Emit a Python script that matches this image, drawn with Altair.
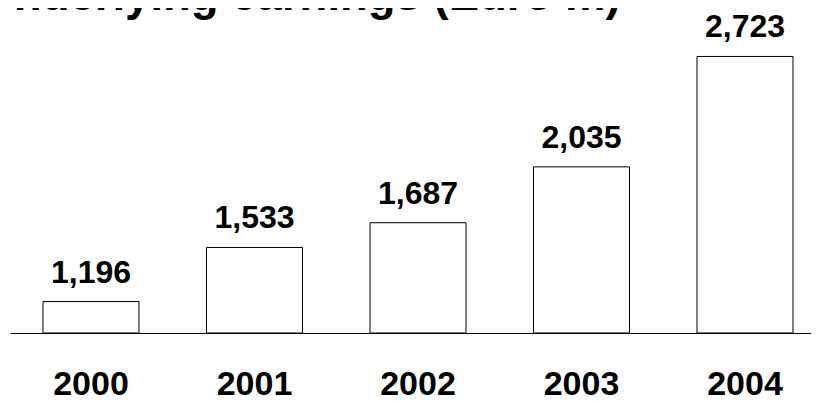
import altair as alt
import pandas as pd

years = ["2000", "2001", "2002", "2003", "2004"]
earnings = [1196, 1533, 1687, 2035, 2723]
labels = ["1,196", "1,533", "1,687", "2,035", "2,723"]
title_text = "Underlying earnings (Euro m)"
baseline_value = 1000

df = pd.DataFrame({"year": years, "value": earnings, "label": labels})

FONT = "Liberation Sans"

x = alt.X(
    "year:N",
    sort=years,
    title=None,
    scale=alt.Scale(paddingInner=0.4128, paddingOuter=0.156, align=0.647),
    axis=alt.Axis(
        labelAngle=0,
        labelFont=FONT,
        labelFontSize=34,
        labelFontWeight="bold",
        labelColor="black",
        labelBaseline="alphabetic",
        labelPadding=61,
        ticks=False,
        tickSize=0,
        domainColor="black",
        domainWidth=1,
        grid=False,
    ),
)
y = alt.Y(
    "value:Q",
    title=None,
    scale=alt.Scale(domain=[1000, 3000], nice=False, zero=False),
    axis=None,
)

bars = alt.Chart(df).mark_bar(fill="white", stroke="black", strokeWidth=1).encode(
    x=x, y=y, y2=alt.datum(baseline_value)
)
texts = alt.Chart(df).mark_text(
    font=FONT, fontSize=32, fontWeight="bold", color="black",
    baseline="alphabetic", dy=-19,
).encode(x=x, y=y, text="label:N")

chart = (
    alt.layer(bars, texts)
    .properties(
        width=801,
        height=321,
        autosize=alt.AutoSizeParams(type="none"),
        padding={"left": 2, "top": 4, "right": 0, "bottom": 68},
        view=alt.ViewBackground(stroke="white", strokeWidth=0, fill="white"),
        title=alt.TitleParams(
            text=title_text,
            font=FONT,
            fontSize=45.5,
            fontWeight="bold",
            color="black",
            anchor="start",
            frame="group",
            baseline="alphabetic",
            offset=0,
            dx=-29,
            dy=44,
        ),
    )
    .configure_view(strokeWidth=0, stroke="white")
    .configure(background="white")
)

chart.save("out.html", embed_options={"renderer": "svg", "actions": False})
